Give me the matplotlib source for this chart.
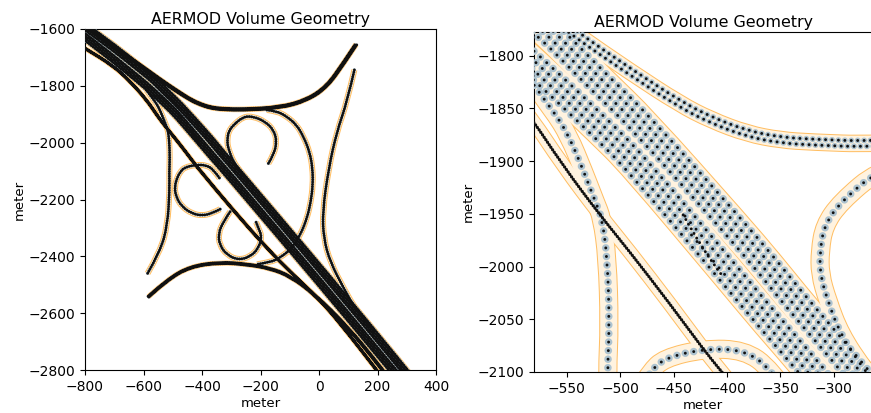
import numpy as np
from matplotlib import pyplot as plt
from matplotlib.patches import PathPatch
from matplotlib.path import Path

# centre lines, metres
main_north_x = [-830, -739, -589, -566, -549, -518, -481, -394, -362, -331, -294, 38, 283, 310]
main_north_y = [-1570, -1635, -1758, -1778, -1795, -1827, -1863, -1962, -2000, -2039, -2082, -2485, -2790, -2825]
main_south_x = [-830, -759, -611, -581, -549, -518, -487, -394, -362, -318, 14, 259, 280]
main_south_y = [-1605, -1659, -1782, -1809, -1839, -1869, -1900, -2012, -2051, -2102, -2505, -2810, -2835]
ramp_ne_x = [-800, -640, -544, -491, -444, -415, -381, -350, -320, -265, -133, -41, 27, 84, 127]
ramp_ne_y = [-1590, -1706, -1778, -1815, -1846, -1861, -1874, -1880, -1882, -1884, -1877, -1850, -1803, -1721, -1654]
ramp_nw_x = [-590, -562, -548, -534, -523, -517, -512, -510, -512, -511, -518, -543, -586]
ramp_nw_y = [-1815, -1853, -1876, -1910, -1939, -1954, -1992, -2055, -2100, -2172, -2290, -2383, -2460]
ramp_se_x = [-583, -520, -441, -338, -247, -167, -98, -19, 100, 218, 235]
ramp_se_y = [-2542, -2483, -2436, -2421, -2428, -2442, -2470, -2530, -2650, -2800, -2825]
ramp_e_x = [121, 96, 61, 33, 12, 16, 38, 84, 130, 187]
ramp_e_y = [-1744, -1856, -1961, -2090, -2243, -2337, -2419, -2512, -2595, -2665]
loop_large_x = [-178, -144, -110, -76, -53, -32, -22, -21, -28, -41, -64, -93, -133, -167, -212]
loop_large_y = [-1885, -1889, -1908, -1938, -1979, -2032, -2090, -2149, -2208, -2266, -2325, -2372, -2405, -2421, -2428]
loop_upper_x = [-173, -155, -144, -155, -184, -224, -258, -294, -309, -313, -313, -306, -294, -272, -240]
loop_upper_y = [-2073, -2043, -1996, -1955, -1926, -1908, -1908, -1939, -1961, -1985, -2007, -2032, -2064, -2098, -2140]
loop_left_x = [-338, -366, -401, -435, -469, -489, -494, -484, -472, -459, -422, -384, -359, -340]
loop_left_y = [-2234, -2249, -2257, -2249, -2225, -2190, -2155, -2120, -2100, -2087, -2078, -2079, -2097, -2125]
loop_lower_x = [-304, -327, -344, -340, -315, -275, -235, -207, -195, -207, -215]
loop_lower_y = [-2243, -2278, -2319, -2360, -2395, -2413, -2401, -2372, -2331, -2301, -2280]
merge_row_x = [-441, -423, -405]
merge_row_y = [-1951, -1984, -2008]
cross_x = [-830, -800, -704, -646, -589, -553, -519, -491, -453, -424, -405, -304, -178, -87, -3, 72, 197, 215]
cross_y = [-1650, -1668, -1729, -1784, -1850, -1905, -1951, -1986, -2036, -2076, -2100, -2225, -2372, -2466, -2547, -2635, -2800, -2825]

road_x = [main_north_x, main_south_x, ramp_ne_x, ramp_nw_x, ramp_se_x, ramp_e_x,
          loop_large_x, loop_upper_x, loop_left_x, loop_lower_x, merge_row_x]
road_y = [main_north_y, main_south_y, ramp_ne_y, ramp_nw_y, ramp_se_y, ramp_e_y,
          loop_large_y, loop_upper_y, loop_left_y, loop_lower_y, merge_row_y]
road_rows = [4, 4, 2, 1, 2, 1, 1, 1, 1, 1, 1]

# per road look: row spacing, dot spacing, buffer width (m), grey dot (px, right panel)
road_row_gap = [6.8, 6.8, 5.5, 0, 4, 0, 0, 0, 0, 0, 0]
road_dot_gap = [8, 8, 6, 8, 6, 8, 8, 8, 8, 8, 5]
road_width = [12, 12, 10, 17, 10, 17, 17, 17, 17, 17, 6]
road_grey = [7.6, 7.6, 6, 7.6, 6, 7.6, 7.6, 7.6, 7.6, 7.6, 0]

CROSS_WIDTH = 13.0
CROSS_GAP = 2.8
DPI = 100

plt.rcParams['lines.scale_dashes'] = False


def offset_row(x, y, dist):
    x, y = np.array(x, float), np.array(y, float)
    tx, ty = np.gradient(x), np.gradient(y)
    norm = np.hypot(tx, ty)
    return x - ty / norm * dist, y + tx / norm * dist


def smooth_path(x, y):
    # waypoints become control points of a quadratic curve
    pts = np.column_stack([x, y])
    verts, codes = [pts[0]], [Path.MOVETO]
    for i in range(1, len(pts) - 1):
        end = pts[i + 1] if i == len(pts) - 2 else (pts[i] + pts[i + 1]) / 2
        verts += [pts[i], end]
        codes += [Path.CURVE3, Path.CURVE3]
    return Path(verts, codes)


def stroke(ax, path, lw, color, zorder, gap=None, cap='butt'):
    style = 'solid' if gap is None else (0, (0.01, gap))
    ax.add_patch(PathPatch(path, fill=False, edgecolor=color, lw=lw, linestyle=style,
                           capstyle=cap, joinstyle='round', zorder=zorder))


def draw_network(ax, px_per_m, dot_px, grey_scale):
    to_pt = px_per_m * 72 / DPI
    px = 72 / DPI
    for i, (x, y) in enumerate(zip(road_x, road_y)):
        rows = road_rows[i]
        for row in range(rows):
            dist = (row - (rows - 1) / 2) * road_row_gap[i]
            path = smooth_path(*offset_row(x, y, dist))
            width = road_width[i] * to_pt
            gap = road_dot_gap[i] * to_pt
            if i < len(road_x) - 1:
                stroke(ax, path, width + px, '#ffbe62', 1)
                stroke(ax, path, width - px, '#fff3e0', 2)
            if road_grey[i]:
                stroke(ax, path, road_grey[i] * grey_scale * px, '#adc3d0', 3, gap, 'round')
            stroke(ax, path, dot_px * px, '#111111', 4, gap, 'round')
    path = smooth_path(cross_x, cross_y)
    stroke(ax, path, CROSS_WIDTH * to_pt + px, '#ffbe62', 1)
    stroke(ax, path, CROSS_WIDTH * to_pt - px, '#fff3e0', 2)
    stroke(ax, path, dot_px * 1.1 * px, '#111111', 4, CROSS_GAP * to_pt, 'round')


fig = plt.figure(figsize=(8.71, 4.13), dpi=DPI)

ax1 = fig.add_axes([85 / 871, 1 - 370 / 413, 351 / 871, 341 / 413])
draw_network(ax1, 351 / 1200, 2.9, 0.45)
ax1.set_xlim(-800, 400)
ax1.set_ylim(-2800, -1600)

ax2 = fig.add_axes([534 / 871, 1 - 372 / 413, 338 / 871, 340 / 413])
draw_network(ax2, 338 / 316.2, 3.0, 1.0)
ax2.set_xlim(-580.6, -264.4)
ax2.set_ylim(-2100, -1777.5)

for ax in (ax1, ax2):
    ax.set_title('AERMOD Volume Geometry', fontsize=11.4, pad=3.5)
    ax.set_xlabel('meter', fontsize=9.5, labelpad=2.5)
    ax.set_ylabel('meter', fontsize=9.5, labelpad=2)
    ax.tick_params(labelsize=10)

fig.savefig('out.png', dpi=DPI)
